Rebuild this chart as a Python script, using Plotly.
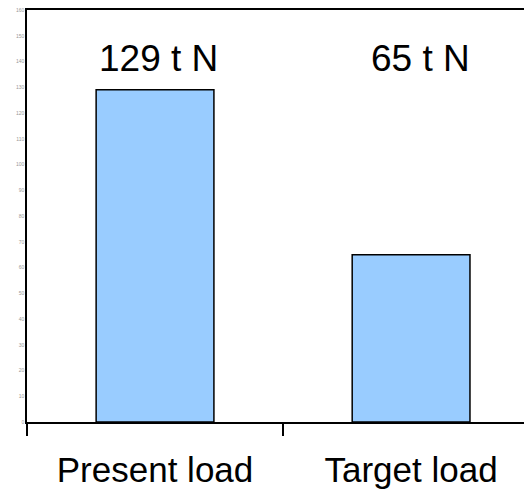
import plotly.graph_objects as go

categories = ["Present load", "Target load"]
values = [129, 65]
bar_labels = ["129 t N", "65 t N"]
y_ticks = list(range(0, 161, 10))

label_xshift = [3, 9]  # pixel nudges of the value labels

fig = go.Figure()
fig.add_trace(go.Bar(
    x=categories, y=values, width=0.46,
    marker=dict(color="#99CCFF", line=dict(color="black", width=1.5)),
))
for c, lab, dx in zip(categories, bar_labels, label_xshift):
    fig.add_annotation(x=c, y=141, text=lab, showarrow=False, xshift=dx,
                       font=dict(family="Liberation Sans, Arial", size=37, color="black"),
                       xanchor="center", yanchor="middle")

fig.update_layout(
    width=524, height=494,
    margin=dict(l=27, r=0, t=10, b=72, autoexpand=False),
    plot_bgcolor="white", paper_bgcolor="white",
    showlegend=False,
    font=dict(family="Liberation Sans, Arial"),
)
fig.update_xaxes(
    range=[-0.5, 1.441], showline=True, linecolor="black", linewidth=1.5,
    mirror=True, ticks="outside", tickson="boundaries", ticklen=12,
    tickcolor="black", tickwidth=1.5, automargin=False,
    tickfont=dict(size=35, color="black", family="Liberation Sans, Arial"),
    ticklabelstandoff=16,
    showgrid=False,
)
fig.update_yaxes(
    range=[0, 160], tickvals=y_ticks, showline=True, linecolor="black",
    linewidth=1.5, showgrid=False, zeroline=False, ticks="", automargin=False,
    tickfont=dict(size=5, color="#999999"),
)
fig.write_html("out.html", config={"displayModeBar": False},
               post_script="document.body.style.margin='0';document.body.style.overflow='hidden';")
